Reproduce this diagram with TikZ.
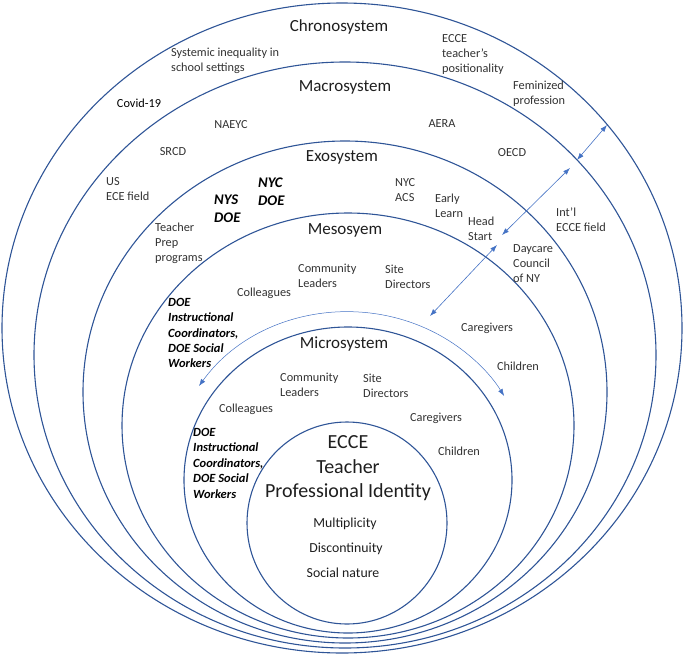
\documentclass[tikz,border=0pt]{standalone}
\usepackage{fontspec}
\setmainfont{Carlito}
\usepackage{tikz}
\usetikzlibrary{arrows.meta}
\usetikzlibrary{positioning}

\definecolor{ringblue}{RGB}{47,85,151}
\definecolor{linkblue}{RGB}{68,114,196}
\definecolor{labelgray}{RGB}{50,50,50}
\definecolor{titlegray}{RGB}{30,30,30}

\tikzset{
  ring/.style={draw=ringblue, line width=1.1pt},
  link/.style={draw=linkblue, line width=0.6pt, <->},
  sysname/.style={font=\fontsize{17}{20}\selectfont, text=titlegray, inner sep=0pt},
  lbl/.style={font=\fontsize{12.3}{15}\selectfont, text=labelgray, align=left, inner sep=0pt},
  actor/.style={font=\fontsize{12.5}{15.2}\selectfont\bfseries\itshape, text=black, align=left, inner sep=0pt},
  bigactor/.style={actor, font=\fontsize{14.7}{18}\selectfont\bfseries\itshape},
  core/.style={font=\fontsize{20}{24.5}\selectfont, text=titlegray, align=center, inner sep=0pt},
  trait/.style={font=\fontsize{13.8}{16}\selectfont, text=titlegray, inner sep=0pt}
}

\begin{document}
\begin{tikzpicture}[x=1pt, y=-1pt, >={Latex[length=7pt,width=5pt]}]
  \useasboundingbox (0,0) rectangle (685,656);

  % nested systems
  \foreach \cx/\cy/\rx/\ry in {342/328/340/325, 345/355/311/293, 345/392/262/251,
                               348/425.5/226/212.5, 348/480/164/153, 347/523/100/101}
    \draw[ring] (\cx,\cy) ellipse [x radius=\rx, y radius=\ry];

  % chronosystem
  \node[sysname] (chrono) at (339,27) {Chronosystem};
  \node[lbl, anchor=west] (inequality) at (171,60.5) {Systemic inequality in\\school settings};
  \node[lbl, anchor=west] (positionality) at (442,54) {ECCE\\teacher’s\\positionality};
  \node[lbl, text=black] (covid) at (139,103) {Covid-19};
  \node[lbl, anchor=west] (feminized) at (513,94) {Feminized\\profession};

  % macrosystem
  \node[sysname] (macro) at (345,87) {Macrosystem};
  \node[lbl] (naeyc) at (231,125) {NAEYC};
  \node[lbl] (aera) at (442,124) {AERA};
  \node[lbl] (srcd) at (173,152) {SRCD};
  \node[lbl] (oecd) at (512,153) {OECD};
  \node[lbl, anchor=west] (usfield) at (106,189.5) {US\\ECE field};
  \node[lbl, anchor=west] (intlfield) at (556,219.5) {Int’l\\ECCE field};

  % exosystem
  \node[sysname] (exo) at (342,157) {Exosystem};
  \node[bigactor, anchor=west] (nysdoe) at (214,209) {NYS\\DOE};
  \node[bigactor, anchor=west] (nycdoe) at (258,192) {NYC\\DOE};
  \node[lbl, anchor=west] (nycacs) at (395,190.5) {NYC\\ACS};
  \node[lbl, anchor=west] (earlylearn) at (435,205.5) {Early\\Learn};
  \node[lbl, anchor=west] (headstart) at (468,228.5) {Head\\Start};
  \node[lbl, anchor=west] (teacherprep) at (155,243) {Teacher\\Prep\\programs};
  \node[lbl, anchor=west] (daycare) at (513,263.5) {Daycare\\Council\\of NY};

  % mesosystem
  \node[sysname] (meso) at (345,230) {Mesosyem};
  \node[lbl, anchor=west] (mesoleaders) at (298,275.5) {Community\\Leaders};
  \node[lbl, anchor=west] (mesodirectors) at (385,276.5) {Site\\Directors};
  \node[lbl] (mesocolleagues) at (264,293) {Colleagues};
  \node[actor, anchor=west] (mesodoe) at (168,333) {DOE\\Instructional\\Coordinators,\\DOE Social\\Workers};
  \node[lbl] (mesocaregivers) at (487,328) {Caregivers};
  \node[lbl] (mesochildren) at (518,366) {Children};

  % microsystem
  \node[sysname] (micro) at (344,344) {Microsystem};
  \node[lbl, anchor=west] (microleaders) at (280,384.5) {Community\\Leaders};
  \node[lbl, anchor=west] (microdirectors) at (363,385.5) {Site\\Directors};
  \node[lbl] (microcolleagues) at (246,409) {Colleagues};
  \node[actor, anchor=west, font=\fontsize{12.5}{15.5}\selectfont\bfseries\itshape] (microdoe) at (193,463)
    {DOE\\Instructional\\Coordinators,\\DOE Social\\Workers};
  \node[lbl] (microcaregivers) at (436,418) {Caregivers};
  \node[lbl] (microchildren) at (459,451) {Children};

  % teacher identity
  \node[core] (identity) at (348,468.5) {ECCE\\Teacher\\Professional Identity};
  \node[trait] (multiplicity) at (345,524) {Multiplicity};
  \node[trait] (discontinuity) at (346,549) {Discontinuity};
  \node[trait] (socialnature) at (343,573) {Social nature};

  % links between systems
  \coordinate (arcleft) at (199,386);
  \draw[link, line width=0.5pt] (arcleft) arc [start angle=-146, end angle=-30, x radius=180, y radius=168];
  \coordinate (mesoend) at (430,316);
  \coordinate (exoend) at (497,245);
  \coordinate (exostart) at (502,235);
  \coordinate (macroend) at (570,168);
  \coordinate (macrostart) at (577,160);
  \coordinate (chronoend) at (607,125);
  \draw[link] (mesoend) -- (exoend);
  \draw[link] (exostart) -- (macroend);
  \draw[link] (macrostart) -- (chronoend);
\end{tikzpicture}
\end{document}
